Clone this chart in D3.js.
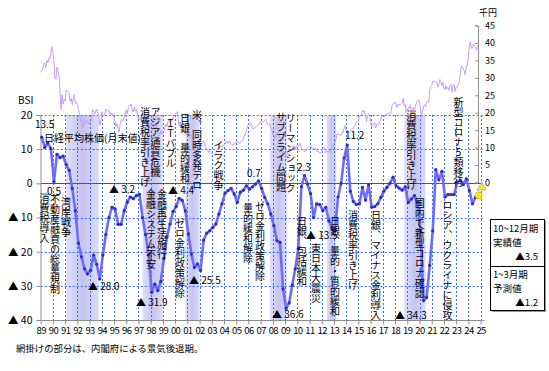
<!DOCTYPE html>
<html>
<head>
<meta charset="utf-8">
<script src="https://cdn.jsdelivr.net/npm/d3@7"></script>
<style>
body { margin: 0; background: #fff; }
svg text { font-family: "Noto Sans CJK JP", "Noto Sans", sans-serif; fill: #000; }
.vt { writing-mode: vertical-rl; text-orientation: upright; font-size: 10px; }
.num { font-size: 10px; }
</style>
</head>
<body>
<svg id="chart" width="549" height="371"></svg>
<script>
// BSI (quarterly, from 1989 Jan-Mar)
var bsiStartYear = 1989;
var bsiValues = [
  13.5, 10.5, 11.8, 10.2,   0.5, 8.5, 7.5, 8.0,   5.5, 3.8, -1.5, -8.0,
  -17.5, -21.5, -25.0, -26.5,   -25.5, -21.0, -23.7, -28.0,   -21.0, -15.0, -10.0, -7.0,
  -7.5, -12.0, -12.0, -8.0,   -5.5, -4.0, -4.5, -3.6,   -3.2, -10.0, -15.0, -21.0,
  -31.9, -29.5, -31.4, -28.7,   -22.0, -15.6, -11.9, -8.2,   -6.8, -4.4, -5.0, -8.0,
  -14.8, -20.7, -24.6, -23.6,   -25.5, -16.6, -14.6, -13.9,   -12.9, -11.9, -9.0, -6.0,
  -2.9, -2.1, -1.5, -3.1,   -5.6, -2.6, -2.0, -0.7,   -1.7, -1.0, -0.2, 0.7,
  -1.5, -4.1, -6.0, -9.0,   -12.4, -16.8, -17.3, -30.9,   -36.6, -35.0, -29.8, -25.0,
  -19.0, -1.0, 2.3, -0.2,   -3.0, -10.0, -6.0, -6.2,   -8.0, -7.0, -11.0, -12.9,
  -13.5, -4.0, 0.0, 7.4,   11.2, -2.3, -5.3, -6.2,   -6.0, -1.2, -4.9, -0.4,
  -7.0, -6.8, -6.0, -4.1,   -2.3, -1.2, 0.0, 1.8,   -0.7, -1.4, -2.0, -1.0,
  -5.6, -4.6, -3.6, -5.6,   -14.0, -34.3, -33.4, -24.0,   -13.9, 4.0, 1.0, 3.5,
  -4.0, -3.3, -3.3, -3.3,   0.3, 1.0, -0.4, 1.3,   -2.1, -6.0, -4.1, -3.5
];
var bsiForecast = -1.2;

// Nikkei 225 month-end close, thousand yen, from Jan 1989
var nikkeiStartYear = 1989;
var nikkeiValues = [
  31.6, 32.0, 32.8, 33.7, 34.3, 32.9, 35.0, 34.4, 35.6, 35.5, 37.3, 38.9,
  37.2, 34.6, 30.0, 29.6, 33.1, 31.9, 31.0, 26.0, 21.0, 25.2, 22.5, 23.8,
  23.3, 26.4, 26.3, 26.1, 25.8, 23.3, 24.1, 22.3, 23.9, 25.2, 22.7, 23.0,
  22.0, 21.3, 19.3, 17.4, 18.3, 16.0, 15.9, 18.1, 17.4, 16.8, 17.7, 16.9,
  17.0, 17.1, 18.6, 20.9, 20.6, 19.6, 20.4, 21.0, 20.1, 19.7, 16.4, 17.4,
  20.2, 19.1, 19.1, 19.7, 21.0, 20.6, 20.4, 20.6, 19.6, 20.0, 19.1, 19.7,
  18.7, 17.1, 16.1, 16.8, 15.4, 14.5, 16.7, 18.1, 17.9, 17.7, 18.7, 19.9,
  20.8, 19.7, 21.4, 22.0, 22.0, 22.5, 20.7, 20.2, 21.6, 20.5, 21.0, 19.4,
  18.3, 18.6, 18.0, 19.2, 20.1, 20.6, 20.3, 18.2, 17.9, 16.5, 16.6, 15.3,
  16.6, 16.8, 16.5, 15.6, 15.7, 15.8, 16.4, 14.1, 13.4, 13.6, 14.9, 13.8,
  14.5, 14.4, 15.8, 16.7, 16.1, 17.5, 17.9, 17.4, 17.6, 17.9, 18.6, 18.9,
  19.5, 20.0, 20.3, 18.0, 16.3, 17.4, 15.7, 16.9, 15.7, 14.5, 14.6, 13.8,
  13.8, 12.9, 13.0, 13.9, 13.3, 13.0, 11.9, 10.7, 9.8, 10.4, 10.7, 10.5,
  10.0, 10.6, 11.0, 11.5, 11.8, 10.6, 9.9, 9.6, 9.4, 8.6, 9.2, 8.6,
  8.3, 8.4, 8.0, 7.8, 8.4, 9.1, 9.6, 10.3, 10.2, 10.6, 10.1, 10.7,
  10.8, 11.0, 11.7, 11.8, 11.2, 11.9, 11.3, 11.1, 10.8, 10.8, 10.9, 11.5,
  11.4, 11.7, 11.7, 11.0, 11.3, 11.6, 11.9, 12.4, 13.6, 13.6, 14.9, 16.1,
  16.7, 16.2, 17.1, 16.9, 15.5, 15.5, 15.5, 16.1, 16.1, 16.4, 16.3, 17.2,
  17.4, 17.6, 17.3, 17.4, 17.9, 18.1, 17.2, 16.6, 16.8, 16.7, 15.7, 15.3,
  13.6, 13.6, 12.5, 13.9, 14.3, 13.5, 13.4, 13.1, 11.3, 8.6, 8.5, 8.9,
  8.0, 7.6, 8.1, 8.8, 9.5, 10.0, 10.4, 10.5, 10.1, 10.0, 9.3, 10.5,
  10.2, 10.1, 11.1, 11.1, 9.8, 9.4, 9.5, 8.8, 9.4, 9.2, 9.9, 10.2,
  10.2, 10.6, 9.8, 9.9, 9.7, 9.8, 9.8, 9.0, 8.7, 9.0, 8.4, 8.5,
  8.8, 9.7, 10.1, 9.5, 8.5, 9.0, 8.7, 8.8, 8.9, 8.9, 9.4, 10.4,
  11.1, 11.6, 12.4, 13.9, 13.8, 13.7, 13.7, 13.4, 14.5, 14.3, 15.7, 16.3,
  14.9, 14.8, 14.8, 14.3, 14.6, 15.2, 15.6, 15.4, 16.2, 16.4, 17.5, 17.5,
  17.7, 18.8, 19.2, 19.5, 20.6, 20.2, 20.6, 18.9, 17.4, 19.1, 19.7, 19.0,
  17.5, 16.0, 16.8, 16.7, 17.2, 15.6, 16.6, 16.9, 16.4, 17.4, 18.3, 19.1,
  19.0, 19.1, 18.9, 19.2, 19.7, 20.0, 19.9, 19.6, 20.4, 22.0, 22.7, 22.8,
  23.1, 22.1, 21.5, 22.5, 22.2, 22.3, 22.6, 22.9, 24.1, 21.9, 22.4, 20.0,
  20.8, 21.4, 21.2, 22.3, 20.6, 21.3, 21.5, 20.7, 21.8, 22.9, 23.3, 23.7,
  23.2, 21.1, 18.9, 20.2, 21.9, 22.3, 21.7, 23.1, 23.2, 23.0, 26.4, 27.4,
  27.7, 29.0, 29.2, 28.8, 28.9, 28.8, 27.3, 28.1, 29.5, 28.9, 27.8, 28.8,
  27.0, 26.5, 27.8, 26.8, 27.3, 26.4, 27.8, 28.1, 25.9, 27.6, 28.0, 26.1,
  27.3, 27.4, 28.0, 28.9, 30.9, 33.2, 33.2, 32.6, 31.9, 30.9, 33.5, 33.5,
  36.3, 39.2, 40.4, 38.4, 38.5, 39.6, 39.1, 38.6, 37.9, 39.1, 38.2
];

// recession periods (start year, month, end year, month)
var recessions = [
  [1991, 2, 1993, 10], [1997, 5, 1999, 1], [2000, 11, 2002, 1],
  [2007, 10, 2009, 3], [2012, 6, 2013, 3], [2018, 10, 2020, 7]
];

var yearTicks = d3.range(1989, 2026);
var bsiTicks = [20, 10, 0, -10, -20, -30, -40];
var yenTicks = [0, 5, 10, 15, 20, 25, 30, 35, 40, 45];

// event notes (vertical), anchored at (year, BSI value) of the first character
var eventNotes = [
  ["消費税導入", 1989.31, -2.8],
  ["不動産融資の総量規制", 1990.17, -3.1],
  ["湾岸戦争", 1991.07, -4.0],
  ["消費税率引き上げ", 1997.53, 22.3],
  ["アジア通貨危機", 1998.39, 22.3],
  ["金融システム不安", 1998.03, -1.7],
  ["金融再生法施行", 1998.93, -1.7],
  ["ＩＴバブル", 1999.62, 19.1],
  ["日銀、量的緩和", 2000.81, 20.6],
  ["米、同時多発テロ", 2001.79, 21.5],
  ["ゼロ金利政策解除", 2000.40, -10.1],
  ["イラク戦争", 2003.55, 12.7],
  ["量的緩和解除", 2005.96, -5.8],
  ["ゼロ金利政策解除", 2006.94, -5.2],
  ["サブプライム問題", 2008.66, 20.9],
  ["リーマンショック", 2009.44, 20.6],
  ["日銀、包括緩和", 2010.38, -9.6],
  ["東日本大震災", 2011.53, -17.5],
  ["日銀、量的・質的緩和", 2013.08, -9.6],
  ["消費税率引き上げ", 2014.56, -7.8],
  ["日銀、マイナス金利導入", 2016.44, -7.8],
  ["消費税率引き上げ", 2019.34, 21.5],
  ["国内で新型コロナ確認", 2020.03, -4.3],
  ["ロシア、ウクライナに侵攻", 2022.29, -4.9],
  ["新型コロナ5類移行", 2023.19, 25.3]
];

// value notes (horizontal), anchored at (year, BSI value) of the text start
var valueNotes = [
  ["13.5", 1988.53, 17.3],
  ["0.5", 1989.52, -2.4],
  ["▲ 28.0", 1992.87, -30.3],
  ["▲ 3.2", 1994.59, -1.7],
  ["▲ 31.9", 1996.80, -34.9],
  ["▲ 4.4", 1999.42, -2.2],
  ["▲ 25.5", 2001.14, -28.5],
  ["0.7", 2005.88, 2.9],
  ["▲ 36.6", 2007.92, -38.5],
  ["2.3", 2009.97, 4.7],
  ["▲ 13.5", 2010.71, -15.4],
  ["11.2", 2013.90, 14.1],
  ["▲ 34.3", 2018.0, -38.7]
];

var svg = d3.select("#chart");

var x = d3.scaleLinear().domain([1989, 2025]).range([40.7, 480.6]);
var yB = d3.scaleLinear().domain([-40, 20]).range([320, 115]);
var yN = d3.scaleLinear().domain([0, 45]).range([182.5, 25.5]);
var rightX = 478;

function bsiT(i) { return bsiStartYear + i / 4 + 1 / 12; }
function nikT(i) { return nikkeiStartYear + i / 12; }

// shading gradient
var defs = svg.append("defs");
var grad = defs.append("linearGradient").attr("id", "shade")
    .attr("x1", "0%").attr("x2", "100%").attr("y1", "0%").attr("y2", "0%");
grad.append("stop").attr("offset", "0%").attr("stop-color", "#e0e0fa");
grad.append("stop").attr("offset", "50%").attr("stop-color", "#c4c4f2");
grad.append("stop").attr("offset", "100%").attr("stop-color", "#dcdcf8");

svg.append("g").selectAll("rect")
    .data(recessions).join("rect")
    .attr("x", function(d) { return x(d[0] + (d[1] - 1) / 12); })
    .attr("width", function(d) { return x(d[2] + (d[3] - 1) / 12) - x(d[0] + (d[1] - 1) / 12); })
    .attr("y", yB(20))
    .attr("height", yB(-40) - yB(20))
    .attr("fill", "url(#shade)");

// grid
var grid = svg.append("g").attr("stroke", "#3d6bf0").attr("stroke-dasharray", "2,2").attr("stroke-width", 1);
grid.selectAll("line.v").data(yearTicks.slice(1)).join("line")
    .attr("class", "v")
    .attr("x1", function(d) { return Math.round(x(d)) + 0.5; })
    .attr("x2", function(d) { return Math.round(x(d)) + 0.5; })
    .attr("y1", yB(20)).attr("y2", yB(-40));
grid.selectAll("line.h").data([20, 10, -10, -20, -30]).join("line")
    .attr("class", "h")
    .attr("x1", x(1989)).attr("x2", x(2025) + 2)
    .attr("y1", function(d) { return Math.round(yB(d)) + 0.5; })
    .attr("y2", function(d) { return Math.round(yB(d)) + 0.5; });

// zero line
svg.append("line")
    .attr("x1", x(1989)).attr("x2", x(2025) + 2)
    .attr("y1", Math.round(yB(0)) + 0.5).attr("y2", Math.round(yB(0)) + 0.5)
    .attr("stroke", "#555").attr("stroke-width", 1);

// axes
var axL = svg.append("g").attr("transform", "translate(" + (Math.round(x(1989)) - 0.5) + ",0)")
    .call(d3.axisLeft(yB).tickValues(bsiTicks).tickSize(4).tickPadding(4)
      .tickFormat(function(d) { return d < 0 ? "▲ " + (-d) : d; }));
axL.selectAll("text").attr("font-size", "10.5px");

var axB = svg.append("g").attr("transform", "translate(0," + (Math.round(yB(-40)) + 0.5) + ")")
    .call(d3.axisBottom(x).tickValues(yearTicks).tickSize(4).tickPadding(3)
      .tickFormat(function(d) { return d3.format("02")(d % 100); }));
axB.selectAll("text").attr("font-size", "9.5px").attr("letter-spacing", "-0.6px");
axB.select(".domain").attr("d", "M" + (x(1989) - 1) + ",0H" + (x(2025) + 4));

var axR = svg.append("g").attr("transform", "translate(" + rightX + ",0)")
    .call(d3.axisRight(yN).tickValues(yenTicks).tickSize(-3).tickPadding(7));
axR.selectAll("text").attr("font-size", "9px");

[axL, axB, axR].forEach(function(a) {
  a.selectAll(".domain").attr("stroke", "#8c8c8c");
  a.selectAll(".tick line").attr("stroke", "#8c8c8c");
});

svg.append("text").attr("x", 18).attr("y", 104).attr("font-size", "10px").text("BSI");
svg.append("text").attr("x", 479).attr("y", 16).attr("font-size", "9px").text("千円");

// Nikkei line
svg.append("path")
    .datum(nikkeiValues)
    .attr("fill", "none")
    .attr("stroke", "#c79cf7")
    .attr("stroke-width", 1)
    .attr("d", d3.line().x(function(d, i) { return x(nikT(i)); }).y(function(d) { return yN(d); }));

// BSI line
svg.append("path")
    .datum(bsiValues)
    .attr("fill", "none")
    .attr("stroke", "#6c6cf6")
    .attr("stroke-width", 2.6)
    .attr("stroke-linejoin", "round")
    .attr("d", d3.line().x(function(d, i) { return x(bsiT(i)); }).y(function(d) { return yB(d); }));

svg.append("g").selectAll("circle")
    .data(bsiValues.slice(0, -1)).join("circle")
    .attr("cx", function(d, i) { return x(bsiT(i)); })
    .attr("cy", function(d) { return yB(d); })
    .attr("r", 1.6)
    .attr("fill", "#2b2bc8");

var lastI = bsiValues.length - 1;
svg.append("circle")
    .attr("cx", x(bsiT(lastI))).attr("cy", yB(bsiValues[lastI]))
    .attr("r", 3.6).attr("fill", "#f6e81c").attr("stroke", "#b8a800").attr("stroke-width", 0.6);
svg.append("path")
    .attr("d", d3.symbol(d3.symbolTriangle, 34)())
    .attr("transform", "translate(" + x(bsiT(lastI + 1)) + "," + yB(bsiForecast) + ")")
    .attr("fill", "#f6e81c").attr("stroke", "#888").attr("stroke-width", 0.6);

// nikkei label
svg.append("text").attr("x", 44).attr("y", 142).attr("font-size", "10px").text("日経平均株価(月末値)");

// notes
svg.append("g").selectAll("text")
    .data(eventNotes).join("text")
    .attr("class", "vt")
    .attr("x", function(d) { return x(d[1]); })
    .attr("y", function(d) { return yB(d[2]); })
    .text(function(d) { return d[0]; });

svg.append("g").selectAll("text")
    .data(valueNotes).join("text")
    .attr("class", "num")
    .attr("x", function(d) { return x(d[1]); })
    .attr("y", function(d) { return yB(d[2]); })
    .attr("dy", "0.35em")
    .text(function(d) { return d[0]; });

// legend box
var lg = svg.append("g");
lg.append("rect").attr("x", 492).attr("y", 221).attr("width", 54).attr("height", 91).attr("fill", "#9a9a9a");
lg.append("rect").attr("x", 490.5).attr("y", 219.5).attr("width", 54).attr("height", 91)
    .attr("fill", "#fff").attr("stroke", "#000").attr("stroke-width", 1);
lg.append("line").attr("x1", 490.5).attr("x2", 544.5).attr("y1", 266.5).attr("y2", 266.5).attr("stroke", "#000");
var lgText = [
  ["10~12月期", 493, 232, "start"], ["実績値", 493, 246, "start"], ["▲" + (-bsiValues[lastI]).toFixed(1), 538, 260, "end"],
  ["1~3月期", 493, 278, "start"], ["予測値", 493, 292, "start"], ["▲" + (-bsiForecast).toFixed(1), 538, 306, "end"]
];
lg.selectAll("text.l").data(lgText).join("text")
    .attr("class", "l")
    .attr("x", function(d) { return d[1]; }).attr("y", function(d) { return d[2]; })
    .attr("text-anchor", function(d) { return d[3]; })
    .attr("font-size", "9.5px")
    .text(function(d) { return d[0]; });

svg.append("text").attr("x", 16).attr("y", 352).attr("font-size", "9.4px")
    .text("網掛けの部分は、内閣府による景気後退期。");
</script>
</body>
</html>
